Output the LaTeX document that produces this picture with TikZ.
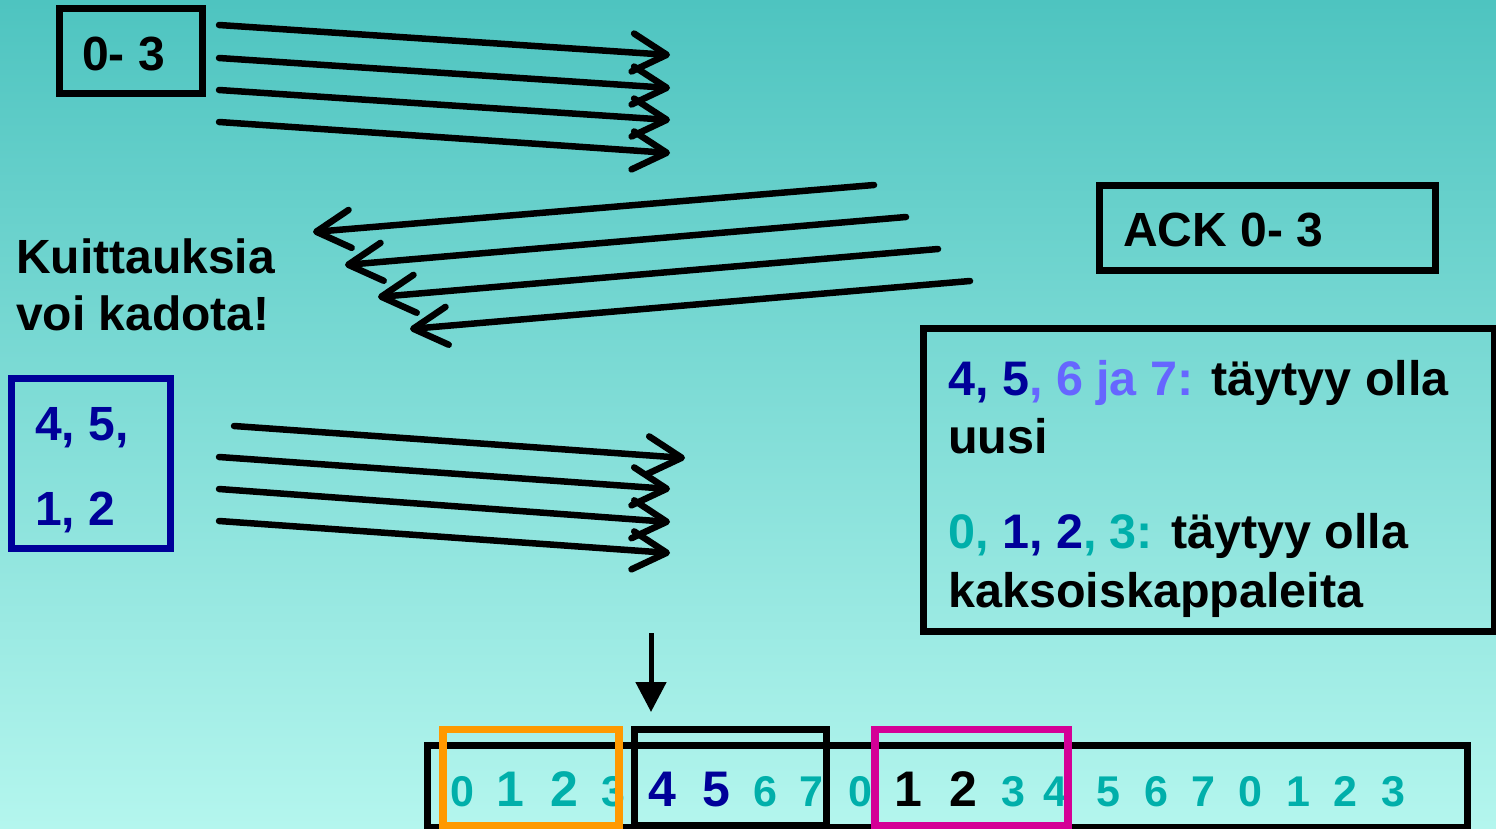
\documentclass[tikz,border=0pt]{standalone}
\usepackage{fontspec}
\setmainfont{Liberation Sans}
\usetikzlibrary{arrows.meta}
\definecolor{bgtop}{RGB}{78,196,192}
\definecolor{bgbot}{RGB}{180,246,238}
\definecolor{navy}{RGB}{0,0,153}
\definecolor{lilac}{RGB}{102,102,255}
\definecolor{seq}{RGB}{0,175,170}
\definecolor{winorange}{RGB}{255,153,0}
\definecolor{winmagenta}{RGB}{212,0,150}
\tikzset{
  bigtxt/.style={font=\fontsize{48}{57}\selectfont\bfseries, inner sep=0pt, anchor=base west},
  boxtxt/.style={font=\fontsize{48.5}{58}\selectfont\bfseries, inner sep=0pt, anchor=base west},
  frame/.style={draw=black, line width=7pt},
  msg/.style={line width=6.5pt, line cap=round, -{Straight Barb[length=34pt,width=38pt,round]}},
  bigdig/.style={font=\fontsize{50}{60}\selectfont\bfseries, inner sep=0pt, anchor=base},
  smalldig/.style={font=\fontsize{43}{52}\selectfont\bfseries, inner sep=0pt, anchor=base},
}
\begin{document}
\begin{tikzpicture}[x=1pt,y=-1pt]
\useasboundingbox (0,0) rectangle (1496,829);
\shade[top color=bgtop, bottom color=bgbot] (0,0) rectangle (1496,829);

% sender window 0-3
\draw[frame] (59,9) rectangle (202.5,94);
\node[bigtxt] (w03) at (82,71) {0- 3};

% four data frames 0..3
\coordinate (s1) at (219,25);  \coordinate (e1) at (670,55);
\coordinate (s2) at (219,58);  \coordinate (e2) at (670,88);
\coordinate (s3) at (219,90);  \coordinate (e3) at (670,120);
\coordinate (s4) at (219,122); \coordinate (e4) at (670,153);
\foreach \i in {1,...,4} \draw[msg] (s\i) -- (e\i);

% acknowledgements travelling back
\coordinate (as1) at (874,185); \coordinate (ae1) at (313,232);
\coordinate (as2) at (906,217); \coordinate (ae2) at (345,265);
\coordinate (as3) at (938,249); \coordinate (ae3) at (378,297);
\coordinate (as4) at (970,281); \coordinate (ae4) at (410,329);
\foreach \i in {1,...,4} \draw[msg] (as\i) -- (ae\i);

\node[bigtxt] (k1) at (16,273) {Kuittauksia};
\node[bigtxt] (k2) at (16,330) {voi kadota!};

% ACK box
\draw[frame] (1099,185.5) rectangle (1435.5,270);
\node[bigtxt] (ack) at (1123,246) {ACK 0- 3};

% retransmitted / new frames
\draw[draw=navy, line width=7pt] (11.5,378.5) rectangle (170.5,548.5);
\node[bigtxt, text=navy] (n45) at (35,440) {4, 5,};
\node[bigtxt, text=navy] (n12) at (35,525) {1, 2};

\coordinate (ms1) at (234,426); \coordinate (me1) at (685,458);
\coordinate (ms2) at (219,457); \coordinate (me2) at (670,489);
\coordinate (ms3) at (219,489); \coordinate (me3) at (670,522);
\coordinate (ms4) at (219,521); \coordinate (me4) at (670,553);
\foreach \i in {1,...,4} \draw[msg] (ms\i) -- (me\i);

% explanation box
\draw[frame] (923.5,328.5) rectangle (1494,631);
\node[boxtxt] (r1) at (948,395) {\textcolor{navy}{4, 5}\textcolor{lilac}{, 6 ja 7:} täytyy olla};
\node[boxtxt] (r2) at (948,453) {uusi};
\node[boxtxt] (r3) at (948,548) {\textcolor{seq}{0, }\textcolor{navy}{1, 2}\textcolor{seq}{, 3:} täytyy olla};
\node[boxtxt] (r4) at (948,607) {kaksoiskappaleita};

% receiver pointer
\coordinate (pa) at (651,633);
\coordinate (pb) at (651,712);
\draw[line width=5pt, -{Triangle[length=30pt,width=30pt]}] (pa) -- (pb);

% sequence number space
\draw[frame] (427.5,745.5) rectangle (1467,827);
\foreach \x/\c/\s/\t [count=\n] in {
  462/seq/smalldig/0, 510.5/seq/bigdig/1, 564/seq/bigdig/2, 613.5/seq/smalldig/3,
  662/navy/bigdig/4, 716.5/navy/bigdig/5, 765/seq/smalldig/6, 811/seq/smalldig/7,
  860/seq/smalldig/0, 908/black/bigdig/1, 963/black/bigdig/2, 1013/seq/smalldig/3,
  1055.5/seq/smalldig/4, 1108/seq/smalldig/5, 1156.5/seq/smalldig/6, 1203/seq/smalldig/7,
  1250/seq/smalldig/0, 1298/seq/smalldig/1, 1345/seq/smalldig/2, 1393/seq/smalldig/3}
  \node[\s, text=\c] (d\n) at (\x,806) {\t};

% windows
\draw[draw=winorange, line width=7.5pt] (443,729.5) rectangle (619,826);
\draw[frame] (634.5,729.5) rectangle (826,825);
\draw[draw=winmagenta, line width=7.5pt] (875,729.5) rectangle (1068,826);
\end{tikzpicture}
\end{document}
